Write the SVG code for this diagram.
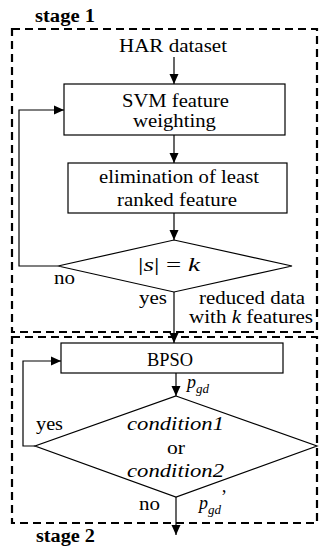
<svg xmlns="http://www.w3.org/2000/svg" width="329" height="551" viewBox="0 0 329 551">
<style>
.frame{fill:none;stroke:#000;stroke-width:2.2;stroke-dasharray:8,5}
.box{fill:#fff;stroke:#000;stroke-width:1.2}
.ln{fill:none;stroke:#000;stroke-width:1.2}
text{font-family:'Liberation Serif','DejaVu Serif',serif;font-size:18px;fill:#000}
.b{font-weight:bold}
.m{font-style:italic}
</style>
<defs>
<marker id="ah" markerUnits="userSpaceOnUse" markerWidth="10" markerHeight="10" viewBox="0 0 10 10" refX="10" refY="5" orient="auto">
<path d="M0,0.5 L10,5 L0,9.5 Z" fill="#000"/>
</marker>
</defs>
<rect width="329" height="551" fill="#fff"/>
<g id="stage1">
<rect class="frame" x="12" y="29" width="305" height="303"/>
<text class="b" font-family="Liberation Serif, DejaVu Serif, serif" x="35" y="22" textLength="60" lengthAdjust="spacingAndGlyphs">stage 1</text>
</g>
<g id="stage2">
<rect class="frame" x="12" y="337" width="305" height="186"/>
<text class="b" x="36" y="542" textLength="59" lengthAdjust="spacingAndGlyphs">stage 2</text>
</g>
<g id="har">
<text x="119" y="52" textLength="108" lengthAdjust="spacingAndGlyphs">HAR dataset</text>
</g>
<g id="svm">
<rect class="box" x="64" y="84" width="221" height="51"/>
<text x="122" y="107" textLength="107" lengthAdjust="spacingAndGlyphs">SVM feature</text>
<text x="133" y="127" textLength="83" lengthAdjust="spacingAndGlyphs">weighting</text>
</g>
<g id="elim">
<rect class="box" x="68" y="163" width="219" height="50"/>
<text x="99" y="183" textLength="160" lengthAdjust="spacingAndGlyphs">elimination of least</text>
<text x="117" y="206" textLength="120" lengthAdjust="spacingAndGlyphs">ranked feature</text>
</g>
<g id="dec1">
<polygon class="box" points="174,240 292,266 174,292 58,266"/>
<text x="138" y="271" textLength="62" lengthAdjust="spacingAndGlyphs">|<tspan class="m">s</tspan>| = <tspan class="m">k</tspan></text>
</g>
<g id="bpso">
<rect class="box" x="61" y="343" width="222" height="30"/>
<text x="147" y="366" textLength="46" lengthAdjust="spacingAndGlyphs">BPSO</text>
</g>
<g id="dec2">
<polygon class="box" points="176,396 317,446 176,497 35,446"/>
<text class="m" x="127" y="430" textLength="97" lengthAdjust="spacingAndGlyphs">condition1</text>
<text x="167" y="454" textLength="18" lengthAdjust="spacingAndGlyphs">or</text>
<text class="m" x="127" y="477" textLength="97" lengthAdjust="spacingAndGlyphs">condition2</text>
</g>
<g id="connectors">
<line class="ln" x1="174" y1="57" x2="174" y2="84" marker-end="url(#ah)"/>
<line class="ln" x1="174" y1="135" x2="174" y2="163" marker-end="url(#ah)"/>
<line class="ln" x1="174" y1="213" x2="174" y2="240" marker-end="url(#ah)"/>
<polyline class="ln" points="58,266 19,266 19,110 64,110" marker-end="url(#ah)"/>
<line class="ln" x1="174" y1="292" x2="174" y2="343" marker-end="url(#ah)"/>
<line class="ln" x1="176" y1="373" x2="176" y2="396" marker-end="url(#ah)"/>
<polyline class="ln" points="35,446 23,446 23,361 61,361" marker-end="url(#ah)"/>
<line class="ln" x1="176" y1="497" x2="176" y2="535" marker-end="url(#ah)"/>
</g>
<g id="labels">
<text x="54" y="284" textLength="21" lengthAdjust="spacingAndGlyphs">no</text>
<text x="139" y="304" textLength="28" lengthAdjust="spacingAndGlyphs">yes</text>
<text x="199" y="304" textLength="106" lengthAdjust="spacingAndGlyphs">reduced data</text>
<text x="189" y="323" textLength="124" lengthAdjust="spacingAndGlyphs">with <tspan class="m">k</tspan> features</text>
<text class="m" x="187" y="388">p<tspan font-size="13" dy="5">gd</tspan></text>
<text x="36" y="430" textLength="27" lengthAdjust="spacingAndGlyphs">yes</text>
<text x="139" y="510" textLength="21" lengthAdjust="spacingAndGlyphs">no</text>
<text class="m" x="199" y="509">p<tspan font-size="13" dy="5">gd</tspan><tspan dy="-11" font-style="normal">’</tspan></text>
</g>
</svg>
